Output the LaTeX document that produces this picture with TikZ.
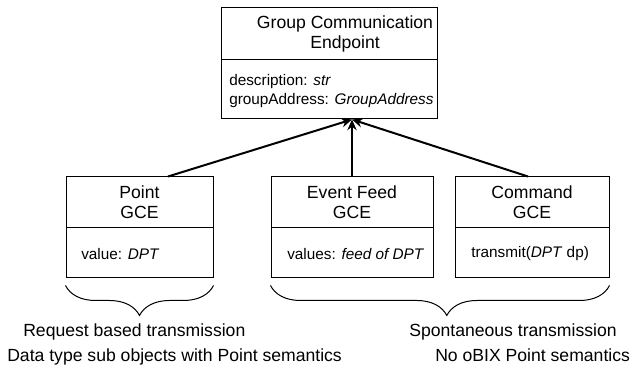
\documentclass[tikz,border=0pt]{standalone}
\usepackage{fontspec}
\setmainfont{Liberation Sans}
\usetikzlibrary{arrows.meta,calc,decorations.pathreplacing}

\begin{document}
\begin{tikzpicture}[x=0.75pt,y=0.75pt,yscale=-1,xscale=1,
  every node/.style={font=\fontsize{13.2}{15}\selectfont},
  compart/.style={draw,line width=0.75pt,inner sep=0pt},
  hdtext/.style={align=center,inner sep=0.75pt},
  attrtext/.style={align=left,anchor=west,inner sep=0.75pt,font=\fontsize{11.5}{14.25}\selectfont},
  inherit/.style={line width=1.5pt,-{Stealth[length=8pt,width=7pt]}},
  grpbrace/.style={decorate,decoration={brace,amplitude=22.5pt,aspect=#1},line width=0.75pt},
  caption/.style={anchor=base west,inner sep=0pt}]
%set diagram left start at 0, and has height of 373
\path[use as bounding box] (0,0) rectangle (635,373);

%Shape: Rectangle
\node[compart,minimum width=162pt,minimum height=39pt] (gceHead) at (329,34) {};
%Shape: Rectangle
\node[compart,minimum width=162pt,minimum height=44.25pt] (gceBody) at (329,89.5) {};
%Shape: Rectangle
\node[compart,minimum width=110.25pt,minimum height=38.25pt] (pointHead) at (139.5,202.5) {};
%Shape: Rectangle
\node[compart,minimum width=110.25pt,minimum height=37.5pt] (pointBody) at (139.5,253) {};
%Shape: Rectangle
\node[compart,minimum width=121.5pt,minimum height=38.25pt] (evtHead) at (352,202.5) {};
%Shape: Rectangle
\node[compart,minimum width=121.5pt,minimum height=37.5pt] (evtBody) at (352,253) {};
%Shape: Rectangle
\node[compart,minimum width=115.5pt,minimum height=38.25pt] (cmdHead) at (532,202.5) {};
%Shape: Rectangle
\node[compart,minimum width=115.5pt,minimum height=37.5pt] (cmdBody) at (532,253) {};

% Text Node
\node[hdtext] (gceName) at (345,34) {Group Communication\\Endpoint};
% Text Node
\node[attrtext] (gceAttr) at (228,91) {description: \textit{str}\\groupAddress: \textit{GroupAddress}};
% Text Node
\node[hdtext] (pointName) at (139.5,202.5) {Point\\GCE};
% Text Node
\node[hdtext] (evtName) at (352,202.5) {Event Feed\\GCE};
% Text Node
\node[hdtext] (cmdName) at (532,202.5) {Command\\GCE};
% Text Node
\node[attrtext] (pointAttr) at (80,254) {value: \textit{DPT}};
% Text Node
\node[attrtext] (evtAttr) at (286,254) {values: \textit{feed of DPT}};
% Text Node
\node[attrtext] (cmdAttr) at (470,254) {transmit(\textit{DPT} dp)};

%Straight Lines
\coordinate (hook) at ($(gceBody.south)+(23,0)$);
\draw[inherit] ($(pointHead.north)+(28.5,0)$) -- (hook);
\draw[inherit] (evtHead.north) -- (hook);
\draw[inherit] ($(cmdHead.north)+(-4,0)$) -- (hook);

%Curve Lines
\draw[grpbrace=0.5] ($(pointBody.south east)+(0,7)$) -- ($(pointBody.south west)+(0,7)$);
\draw[grpbrace=0.48] ($(cmdBody.south east)+(0,7)$) -- ($(evtBody.south west)+(0,7)$);

% Text Node
\node[caption] (reqLbl) at (23,337) {Request based transmission};
% Text Node
\node[caption] (dataLbl) at (7,362) {Data type sub objects with Point semantics};
% Text Node
\node[caption] (sponLbl) at (409,337) {Spontaneous transmission};
% Text Node
\node[caption] (obixLbl) at (435,362) {No oBIX Point semantics};

\end{tikzpicture}
\end{document}
